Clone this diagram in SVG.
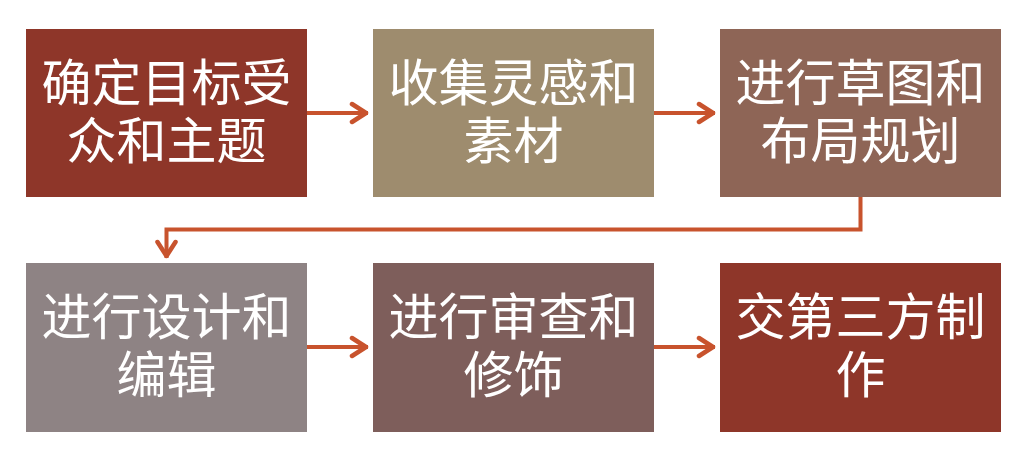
<svg xmlns="http://www.w3.org/2000/svg" width="1030" height="462" viewBox="0 0 1030 462">
<defs>
<style>
.box{stroke:none}
.t{font-family:"Noto Sans CJK SC","Noto Sans",sans-serif;font-size:50px;fill:#ffffff;text-anchor:middle}
.c{fill:none;stroke:#C8532D;stroke-width:4}
</style>
<marker id="ah" viewBox="0 0 22 24" refX="19" refY="12" markerWidth="22" markerHeight="24" markerUnits="userSpaceOnUse" orient="auto">
<path d="M3,3 L17,12 L3,21" fill="none" stroke="#C8532D" stroke-width="4.5" stroke-linecap="round" stroke-linejoin="round"/>
</marker>
</defs>
<rect width="1030" height="462" fill="#ffffff"/>
<g id="connectors">
<line class="c" x1="307" y1="113" x2="368" y2="113" marker-end="url(#ah)"/>
<line class="c" x1="654" y1="113" x2="715" y2="113" marker-end="url(#ah)"/>
<polyline class="c" points="860.5,197 860.5,229.5 166.5,229.5 166.5,258" marker-end="url(#ah)"/>
<line class="c" x1="307" y1="347" x2="368" y2="347" marker-end="url(#ah)"/>
<line class="c" x1="654" y1="347" x2="715" y2="347" marker-end="url(#ah)"/>
</g>
<g id="node1">
<rect class="box" x="26" y="29" width="281" height="168" fill="#8E3629"/>
<text class="t" x="166.5" y="101">确定目标受</text>
<text class="t" x="166.5" y="159">众和主题</text>
</g>
<g id="node2">
<rect class="box" x="373" y="29" width="281" height="168" fill="#9E8C6E"/>
<text class="t" x="513.5" y="101">收集灵感和</text>
<text class="t" x="513.5" y="159">素材</text>
</g>
<g id="node3">
<rect class="box" x="720" y="29" width="281" height="168" fill="#8E6556"/>
<text class="t" x="860.5" y="101">进行草图和</text>
<text class="t" x="860.5" y="159">布局规划</text>
</g>
<g id="node4">
<rect class="box" x="26" y="263" width="281" height="169" fill="#8E8384"/>
<text class="t" x="166.5" y="335">进行设计和</text>
<text class="t" x="166.5" y="393">编辑</text>
</g>
<g id="node5">
<rect class="box" x="373" y="263" width="281" height="169" fill="#7E5E5B"/>
<text class="t" x="513.5" y="335">进行审查和</text>
<text class="t" x="513.5" y="393">修饰</text>
</g>
<g id="node6">
<rect class="box" x="720" y="263" width="281" height="169" fill="#8E3629"/>
<text class="t" x="860.5" y="335">交第三方制</text>
<text class="t" x="860.5" y="393">作</text>
</g>
</svg>
